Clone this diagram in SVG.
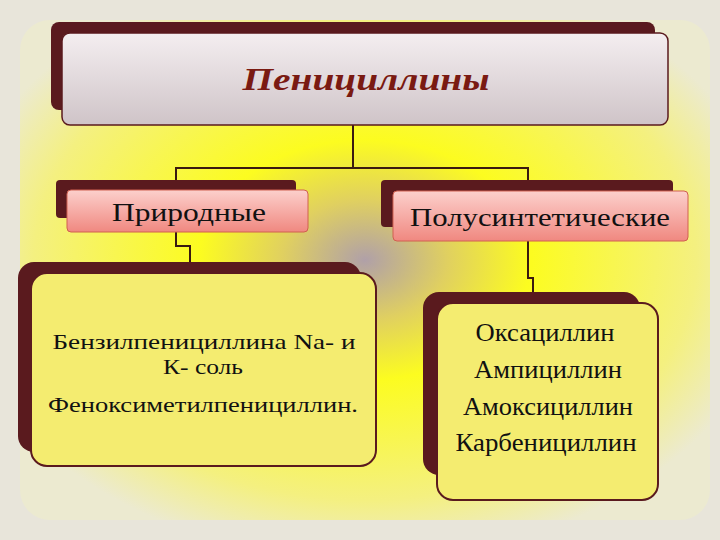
<svg xmlns="http://www.w3.org/2000/svg" width="720" height="540" viewBox="0 0 720 540">
<defs>
<radialGradient id="bg" cx="0.5" cy="0.48" r="0.6">
<stop offset="0" stop-color="#b0a0a8"/>
<stop offset="0.2" stop-color="#e0d060"/>
<stop offset="0.4" stop-color="#fcfc20"/>
<stop offset="0.8" stop-color="#f4f080"/>
<stop offset="1" stop-color="#ecead0"/>
</radialGradient>
<linearGradient id="top" x1="0" y1="0" x2="0" y2="1">
<stop offset="0" stop-color="#f4eef0"/><stop offset="1" stop-color="#cfc4c8"/>
</linearGradient>
<linearGradient id="pink" x1="0" y1="0" x2="0" y2="1">
<stop offset="0" stop-color="#fcd0cc"/><stop offset="1" stop-color="#f08880"/>
</linearGradient>
<style>
.sh{fill:#5a1a1e}
.yb{fill:#f4ec70;stroke:#5a1a1e;stroke-width:2}
.t{font-family:"Liberation Serif",serif;font-size:25px;fill:#111;text-anchor:middle}
.s{font-size:22px}
.c{fill:none;stroke:#3a1a10;stroke-width:2}
</style>
</defs>
<rect width="720" height="540" fill="#e8e5da"/>
<rect x="20" y="20" width="690" height="500" rx="30" fill="url(#bg)"/>
<g id="connectors">
<path class="c" d="M353 125V168M176 180V168H528V180"/>
<path class="c" d="M176 232V246H190V262"/>
<path class="c" d="M528 241V278H533V292"/>
</g>
<g id="root">
<rect class="sh" x="51" y="22" width="604" height="88" rx="8"/>
<rect x="62" y="33" width="606" height="92" rx="8" fill="url(#top)" stroke="#5a1a1e" stroke-width="1.5"/>
<text x="366" y="90" font-family="Liberation Serif,serif" font-size="31" font-weight="bold" font-style="italic" fill="#7a1a12" text-anchor="middle" textLength="247" lengthAdjust="spacingAndGlyphs">Пенициллины</text>
</g>
<g id="natural">
<rect class="sh" x="56" y="180" width="240" height="38" rx="4"/>
<rect x="67" y="190" width="241" height="42" rx="4" fill="url(#pink)" stroke="#d06050"/>
<text class="t" x="189" y="221" textLength="154" lengthAdjust="spacingAndGlyphs">Природные</text>
</g>
<g id="semi">
<rect class="sh" x="381" y="180" width="292" height="47" rx="4"/>
<rect x="393" y="191" width="295" height="50" rx="4" fill="url(#pink)" stroke="#d06050"/>
<text class="t" x="540" y="226" textLength="260" lengthAdjust="spacingAndGlyphs">Полусинтетические</text>
</g>
<g id="natural-list">
<rect class="sh" x="18" y="262" width="343" height="190" rx="16"/>
<rect class="yb" x="31" y="273" width="345" height="193" rx="16"/>
<text class="t s" x="204" y="349" textLength="303" lengthAdjust="spacingAndGlyphs">Бензилпенициллина Na- и</text>
<text class="t s" x="203" y="374" textLength="80" lengthAdjust="spacingAndGlyphs">К- соль</text>
<text class="t s" x="203" y="412" textLength="310" lengthAdjust="spacingAndGlyphs">Феноксиметилпенициллин.</text>
</g>
<g id="semi-list">
<rect class="sh" x="423" y="292" width="217" height="183" rx="16"/>
<rect class="yb" x="437" y="303" width="221" height="197" rx="16"/>
<text class="t" x="545" y="341" textLength="139" lengthAdjust="spacingAndGlyphs">Оксациллин</text>
<text class="t" x="548" y="378" textLength="148" lengthAdjust="spacingAndGlyphs">Ампициллин</text>
<text class="t" x="548" y="415" textLength="170" lengthAdjust="spacingAndGlyphs">Амоксициллин</text>
<text class="t" x="546" y="451" textLength="181" lengthAdjust="spacingAndGlyphs">Карбенициллин</text>
</g>
</svg>
